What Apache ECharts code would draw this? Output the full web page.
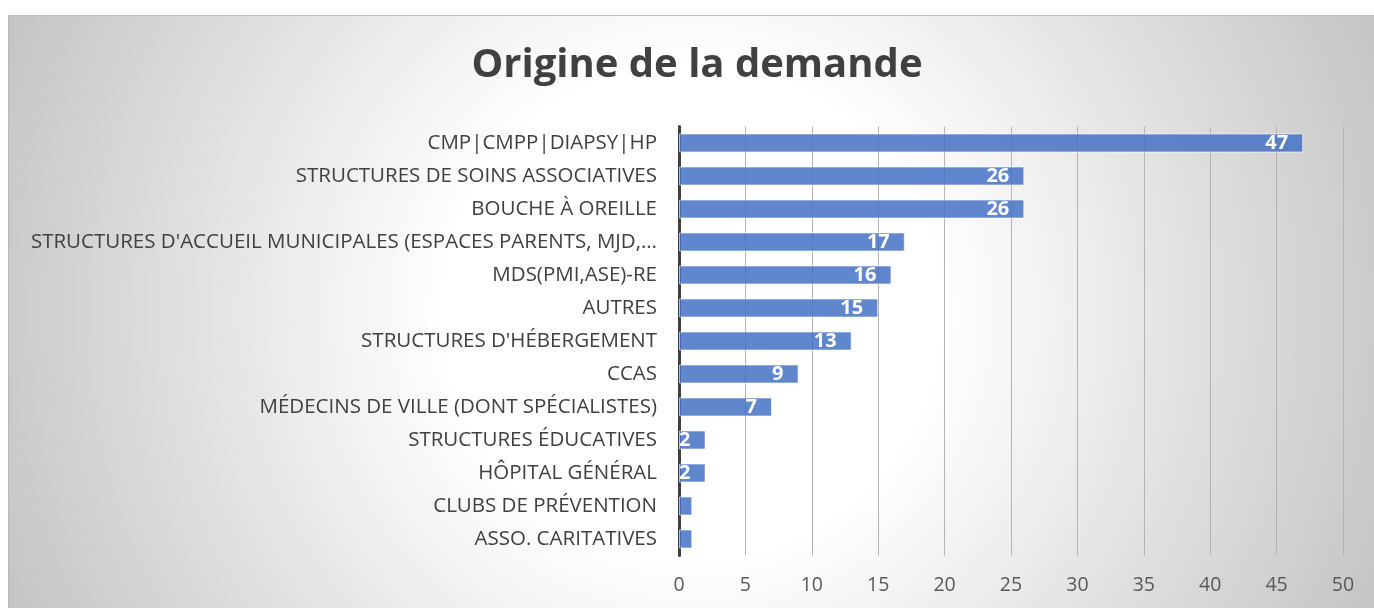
<!DOCTYPE html>
<html>
<head>
<meta charset="utf-8">
<script src="https://cdn.jsdelivr.net/npm/echarts@6/dist/echarts.min.js"></script>
<style>
  html, body { margin: 0; padding: 0; background: #fff; }
  #bg {
    position: absolute; left: 8px; top: 15px; width: 1366px; height: 593px;
    box-sizing: border-box;
    border-top: 1px solid #bdbdbd; border-left: 1px solid #b8b8b8;
    background: radial-gradient(circle at 683px 296px, #ffffff 0px, #ffffff 245px, #c0c0c0 780px);
  }
  #chart { position: absolute; left: 0; top: 0; width: 1374px; height: 608px; }
</style>
</head>
<body>
<div id="bg"></div>
<div id="chart"></div>
<script>
const categories = [
  'CMP|CMPP|DIAPSY|HP',
  'STRUCTURES DE SOINS ASSOCIATIVES',
  'BOUCHE À OREILLE',
  "STRUCTURES D'ACCUEIL MUNICIPALES (ESPACES PARENTS, MJD,…",
  'MDS(PMI,ASE)-RE',
  'AUTRES',
  "STRUCTURES D'HÉBERGEMENT",
  'CCAS',
  'MÉDECINS DE VILLE (DONT SPÉCIALISTES)',
  'STRUCTURES ÉDUCATIVES',
  'HÔPITAL GÉNÉRAL',
  'CLUBS DE PRÉVENTION',
  'ASSO. CARITATIVES'
]
const values = [47, 26, 26, 17, 16, 15, 13, 9, 7, 2, 2, 1, 1]
const xTicks = { min: 0, max: 50, interval: 5 }

const font = "'Open Sans', sans-serif"
const chart = echarts.init(document.getElementById('chart'))
chart.setOption({
  backgroundColor: 'transparent',
  animation: false,
  title: {
    text: 'Origine de la demande',
    left: 692,
    top: 41,
    textAlign: 'center',
    textStyle: { fontFamily: font, fontSize: 40, fontWeight: 'bold', color: '#404040' }
  },
  grid: { left: 679, right: 31, top: 126.5, bottom: 52.5, containLabel: false },
  xAxis: {
    type: 'value',
    min: xTicks.min,
    max: xTicks.max,
    interval: xTicks.interval,
    axisLine: { show: false },
    axisTick: { show: false },
    splitLine: { lineStyle: { color: '#b4b4b4', width: 1 } },
    axisLabel: { color: '#595959', fontFamily: font, fontSize: 19.5, margin: 20 }
  },
  yAxis: {
    type: 'category',
    inverse: true,
    data: categories,
    axisLine: { lineStyle: { color: '#404040', width: 3 } },
    axisTick: { show: false },
    axisLabel: { color: '#404040', fontFamily: font, fontSize: 20.5, margin: 22 }
  },
  series: [
    {
      type: 'bar',
      data: values,
      barWidth: 19,
      itemStyle: {
        color: 'rgba(68, 114, 196, 0.85)',
        borderColor: 'rgba(255, 255, 255, 0.6)',
        borderWidth: 1
      },
      label: {
        show: true,
        position: 'insideRight',
        distance: 15,
        color: '#fff',
        fontFamily: font,
        fontWeight: 'bold',
        fontSize: 20,
        formatter: p => (p.value > 1 ? p.value : '')
      }
    }
  ]
})
</script>
</body>
</html>
